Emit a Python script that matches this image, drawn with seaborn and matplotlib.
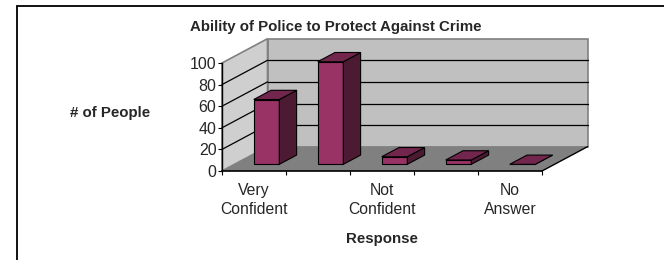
import numpy as np
import pandas as pd
import matplotlib
matplotlib.use("Agg")
import matplotlib.pyplot as plt
import seaborn as sns
from matplotlib.patches import Polygon
from matplotlib.lines import Line2D

# data
categories = ["Very Confident", "Category 2", "Not Confident", "Category 4", "No Answer"]
tick_labels = ["Very\nConfident", "", "Not\nConfident", "", "No\nAnswer"]
people = [60, 95, 7, 4, 0]
y_ticks = [0, 20, 40, 60, 80, 100]

sns.set_theme(style="white")
plt.rcParams["font.family"] = ["Liberation Sans", "DejaVu Sans"]

front_col = "#993366"
side_col = "#4d1a33"
top_col = "#73264d"
back_wall = "#c0c0c0"
left_wall = "#cfcfcf"
floor_col = "#808080"
edge_gray = "#808080"

# oblique depth of the box, in data units
DX = 0.711
DY = 22.5
f0 = 0.275  # where bars start in depth
bd = 0.38   # bar depth

fig = plt.figure(figsize=(6.64, 2.6), dpi=100)
ax = fig.add_axes([222 / 664, (260 - 171) / 260, 320 / 664, 108 / 260])

df = pd.DataFrame({"response": categories, "people": people})
sns.barplot(data=df, x="response", y="people", order=categories, color=front_col,
            saturation=1, width=0.40, edgecolor="black", linewidth=0.8, ax=ax, zorder=5)
bars = list(ax.patches)

ax.set_xlim(-0.5, 4.5)
ax.set_ylim(0, 100)

x0, x1 = -0.5, 4.5
# walls and floor
ax.add_patch(Polygon([(x0 + DX, DY), (x1 + DX, DY), (x1 + DX, 100 + DY), (x0 + DX, 100 + DY)],
                     closed=True, facecolor=back_wall, edgecolor=edge_gray, lw=1.2,
                     zorder=0, clip_on=False))
ax.add_patch(Polygon([(x0, 0), (x0, 100), (x0 + DX, 100 + DY), (x0 + DX, DY)],
                     closed=True, facecolor=left_wall, edgecolor=edge_gray, lw=1.2,
                     zorder=0, clip_on=False))
ax.add_patch(Polygon([(x0, 0), (x1, 0), (x1 + DX, DY), (x0 + DX, DY)],
                     closed=True, facecolor=floor_col, edgecolor="none",
                     zorder=1, clip_on=False))
ax.plot([x1, x1 + DX], [0, DY], color="black", lw=1.0, zorder=2, clip_on=False)

for t in y_ticks[1:-1]:
    ax.plot([x0 + DX, x1 + DX], [t + DY, t + DY], color="black", lw=0.9, zorder=1, clip_on=False)
    ax.plot([x0, x0 + DX], [t, t + DY], color="black", lw=0.9, zorder=1, clip_on=False)

# 3d sides of the bars
for p in bars:
    bx = p.get_x() + f0 * DX
    by = f0 * DY
    w = p.get_width()
    h = p.get_height()
    p.set_xy((bx, by))
    p.set_clip_on(False)
    ddx, ddy = bd * DX, bd * DY
    top = [(bx, by + h), (bx + w, by + h), (bx + w + ddx, by + h + ddy), (bx + ddx, by + h + ddy)]
    side = [(bx + w, by), (bx + w + ddx, by + ddy), (bx + w + ddx, by + h + ddy), (bx + w, by + h)]
    ax.add_patch(Polygon(side, closed=True, facecolor=side_col, edgecolor="black",
                         lw=0.8, zorder=5, clip_on=False))
    ax.add_patch(Polygon(top, closed=True, facecolor=top_col, edgecolor="black",
                         lw=0.8, zorder=5, clip_on=False))

# axes
for s in ["top", "right"]:
    ax.spines[s].set_visible(False)
ax.spines["left"].set_color("black")
ax.spines["bottom"].set_color("black")
ax.spines["left"].set_linewidth(1.0)
ax.spines["bottom"].set_linewidth(1.2)
ax.spines["left"].set_zorder(2)
ax.spines["bottom"].set_zorder(2)

ax.set_yticks(y_ticks)
ax.set_yticklabels([str(t) for t in y_ticks], fontsize=11.5)
ax.tick_params(axis="y", left=True, length=3, width=0.8, color="black", pad=1)

ax.set_xticks(np.arange(-0.5, 5, 1.0))
ax.set_xticklabels([])
ax.set_xticks(np.arange(0, 5), minor=True)
ax.set_xticklabels(tick_labels, minor=True, fontsize=11.3, linespacing=1.35)
ax.tick_params(axis="x", which="major", bottom=True, length=3, width=0.8, color="black")
ax.tick_params(axis="x", which="minor", bottom=False, length=0, pad=8.5)
ax.set_xlabel("")
ax.set_ylabel("")

fig.text(336 / 664, 1 - 27 / 260, "Ability of Police to Protect Against Crime",
         ha="center", va="center", fontsize=10.8, fontweight="bold")
fig.text(110 / 664, 1 - 113 / 260, "# of People", ha="center", va="center",
         fontsize=10.8, fontweight="bold")
fig.text(382 / 664, 1 - 239 / 260, "Response", ha="center", va="center",
         fontsize=10.8, fontweight="bold")

# chart frame (left and top edges only visible)
fig.add_artist(Line2D([16.5 / 664, 16.5 / 664], [0, 1 - 5.5 / 260],
                      transform=fig.transFigure, color="black", lw=1.3))
fig.add_artist(Line2D([16.5 / 664, 1], [1 - 5.5 / 260, 1 - 5.5 / 260],
                      transform=fig.transFigure, color="black", lw=1.3))

fig.savefig("out.png", dpi=100)
